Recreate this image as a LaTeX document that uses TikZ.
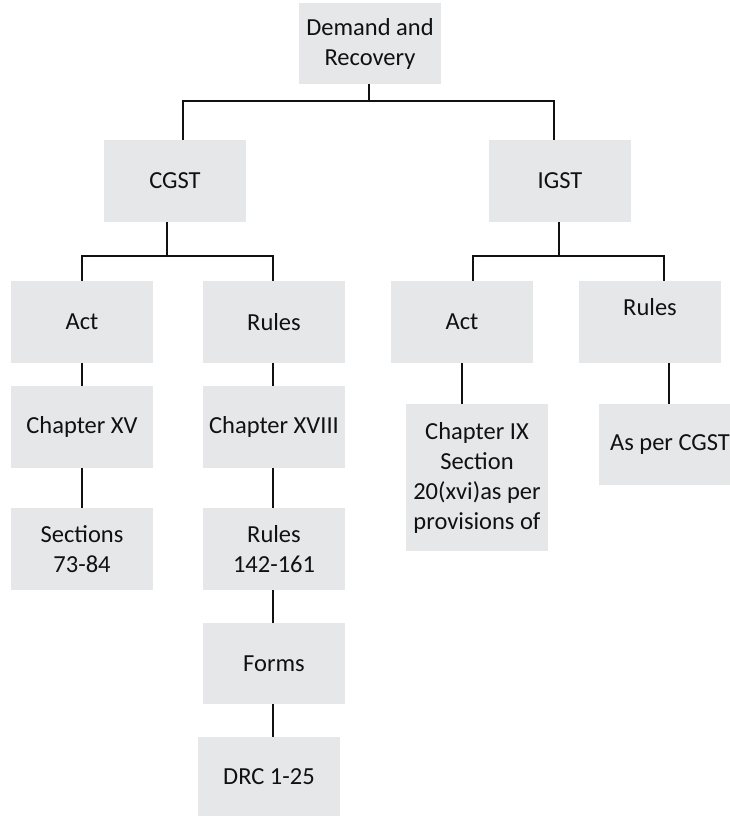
\documentclass[tikz,border=0pt]{standalone}
\usepackage{fontspec}
\setmainfont{Carlito}
\usetikzlibrary{calc}
\definecolor{boxgray}{HTML}{E6E7E8}
\definecolor{ink}{HTML}{111111}
\begin{document}
\begin{tikzpicture}[x=1pt,y=-1pt,
  box/.style={rectangle, fill=boxgray, inner sep=0pt, minimum width=142pt,
    minimum height=82pt, align=center, text=ink,
    font=\fontsize{24.5}{30}\selectfont},
  boxlabel/.style={text=ink, inner sep=0pt, font=\fontsize{24.5}{30}\selectfont},
  link/.style={line width=2.2pt, draw=ink}]
\useasboundingbox (0,0) rectangle (730,816);
\clip (0,0) rectangle (730,816);

% top level
\node[box, minimum height=81pt] (dr) at (370,43.5) {Demand and\\Recovery};

% second level
\node[box] (cgst) at (175,181) {CGST};
\node[box] (igst) at (560,181) {IGST};

% CGST branch
\node[box] (cact) at (82,322) {Act};
\node[box] (crul) at (274,322) {Rules};
\node[box] (ch15) at (82,427) {Chapter XV};
\node[box] (ch18) at (274,427) {Chapter XVIII};
\node[box] (sec)  at (82,549) {Sections\\73-84};
\node[box] (r142) at (274,549) {Rules\\142-161};
\node[box, minimum height=81pt] (forms) at (274,663.5) {Forms};
\node[box, minimum height=79pt] (drc) at (269,776.5) {DRC 1-25};

% IGST branch
\node[box] (iact) at (462,322) {Act};
\node[box] (irul) at (650,322) {};
\node[boxlabel] (irullbl) at (650,307) {Rules};
\node[box, minimum height=147pt] (ch9) at (477,477.5)
  {Chapter IX\\Section\\20(xvi)as per\\provisions of};
\node[box, minimum height=81pt] (asper) at (670,444.5) {As per CGST};

% junction points of the elbow connectors
\coordinate (j0) at (369,101);
\coordinate (j1) at (167,256);
\coordinate (j2) at (559,256);

% connectors
\draw[link] ([xshift=-1pt]dr.south) -- (j0);
\draw[link] ([xshift=8pt]cgst.north) |- (j0) -| ([xshift=-6pt]igst.north);

\draw[link] ([xshift=-8pt]cgst.south) -- (j1);
\draw[link] (cact.north) |- (j1) -| ([xshift=-1pt]crul.north);

\draw[link] ([xshift=-1pt]igst.south) -- (j2);
\draw[link] ([xshift=11pt]iact.north) |- (j2) -| ([xshift=14pt]irul.north);

\draw[link] (cact.south) -- (ch15.north);
\draw[link] ([xshift=-1pt]crul.south) -- ([xshift=-1pt]ch18.north);
\draw[link] (ch15.south) -- (sec.north);
\draw[link] ([xshift=-1pt]ch18.south) -- ([xshift=-1pt]r142.north);
\draw[link] ([xshift=-1pt]r142.south) -- ([xshift=-1pt]forms.north);
\draw[link] ([xshift=-1pt]forms.south) -- ([xshift=-1pt]forms.south |- drc.north);

\draw[link] (iact.south) -- (iact.south |- ch9.north);
\draw[link] ([xshift=-1pt]asper.north |- irul.south) -- ([xshift=-1pt]asper.north);
\end{tikzpicture}
\end{document}
